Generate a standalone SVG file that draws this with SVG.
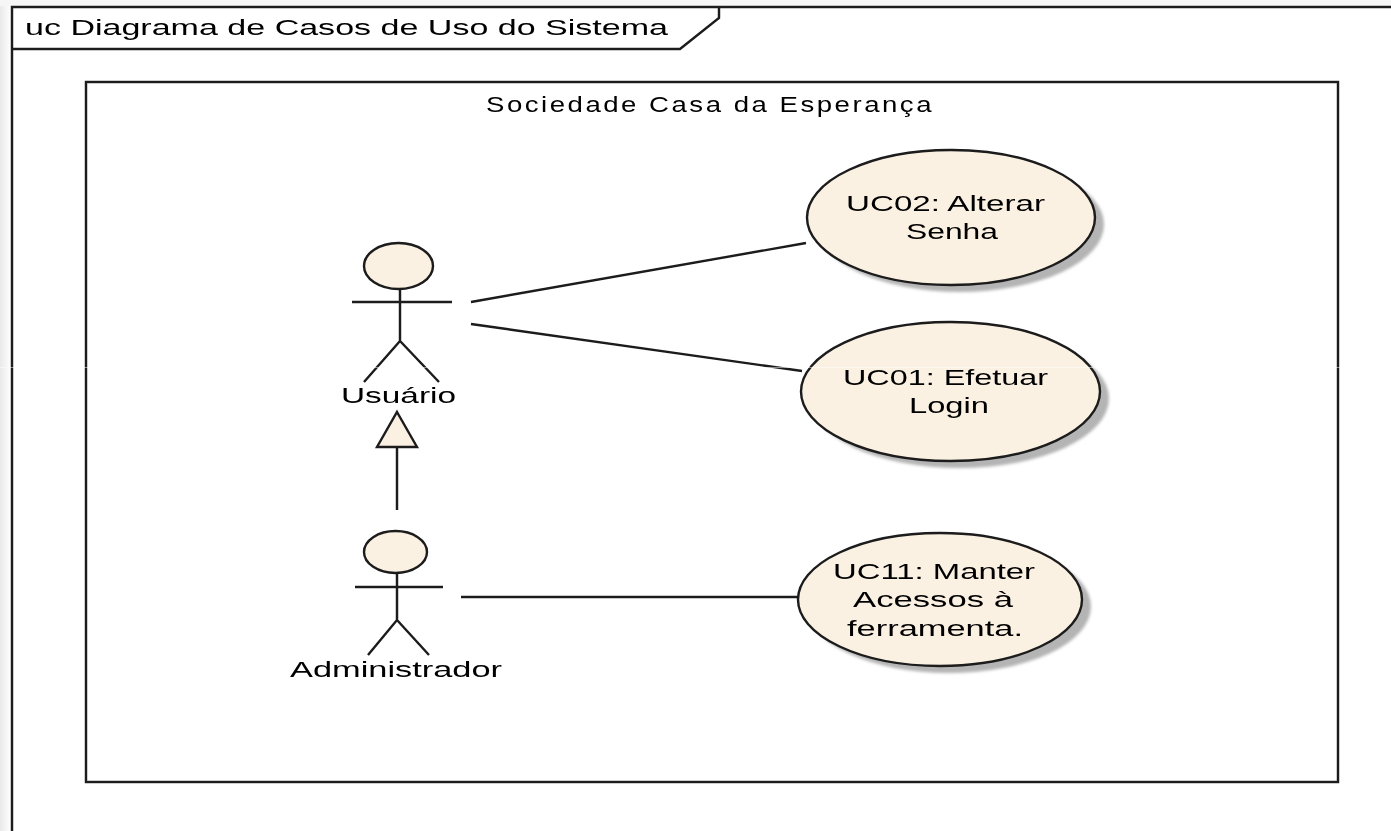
<svg xmlns="http://www.w3.org/2000/svg" width="1391" height="831" viewBox="0 0 1391 831">
<style>
.l{fill:none;stroke:#1a1a1a;stroke-width:2.400}
.f{fill:#fbf1e3;stroke:#1a1a1a;stroke-width:2.400}
.s{fill:#b4b4b4;filter:url(#b)}
text{font-family:"Liberation Sans",Arial,sans-serif;font-size:22px;fill:#000}
</style>
<defs>
<linearGradient id="g" x1="0" x2="1" y1="0" y2="0"><stop offset="0" stop-color="#e9e9e9"/><stop offset="1" stop-color="#ffffff"/></linearGradient>
<filter id="b" x="-5%" y="-5%" width="110%" height="110%"><feGaussianBlur stdDeviation="1.500"/></filter>
<filter id="soft" x="0" y="0" width="1391" height="831" filterUnits="userSpaceOnUse"><feGaussianBlur stdDeviation="0.450"/></filter>
</defs>
<rect width="1391" height="831" fill="#fff"/>
<rect width="11" height="831" fill="url(#g)"/>
<rect width="1391" height="6" fill="#f6f6f6"/>
<g filter="url(#soft)">
<g id="frame">
<path class="l" d="M1391 7H12V831"/>
<path class="l" d="M12 49H680L719 18V7"/>
<text x="25" y="35" textLength="643" lengthAdjust="spacingAndGlyphs">uc Diagrama de Casos de Uso do Sistema</text>
</g>
<g id="boundary">
<rect class="l" x="86" y="82" width="1252" height="700"/>
<text x="486" y="112" textLength="448" lengthAdjust="spacingAndGlyphs" letter-spacing="2">Sociedade Casa da Esperança</text>
</g>
<g id="connectors">
<path class="l" d="M471 302L806 243"/>
<path class="l" d="M471 324L802 371"/>
<path class="l" d="M461 597H798"/>
<path class="l" d="M397 510V447"/>
<path class="f" d="M397 412L417 447H377Z"/>
</g>
<g id="actor-usuario">
<ellipse class="f" cx="398.500" cy="266" rx="34.500" ry="23"/>
<path class="l" d="M352 302H452M400 289V341M364 382L400 341L439 382"/>
<text x="341" y="403" textLength="115" lengthAdjust="spacingAndGlyphs">Usuário</text>
</g>
<g id="actor-administrador">
<ellipse class="f" cx="395.500" cy="552" rx="31.500" ry="21"/>
<path class="l" d="M355 587H443M397 573V620M368 655L397 620L429 655"/>
<text x="290" y="677" textLength="212" lengthAdjust="spacingAndGlyphs">Administrador</text>
</g>
<g id="uc02">
<ellipse class="s" cx="960" cy="224.500" rx="144" ry="67.500"/>
<ellipse class="f" cx="951" cy="217.500" rx="144" ry="67.500"/>
<text x="846" y="211" textLength="199" lengthAdjust="spacingAndGlyphs">UC02: Alterar</text>
<text x="906" y="239" textLength="92" lengthAdjust="spacingAndGlyphs">Senha</text>
</g>
<g id="uc01">
<ellipse class="s" cx="959.500" cy="398.500" rx="149.500" ry="69.500"/>
<ellipse class="f" cx="950.500" cy="391.500" rx="149.500" ry="69.500"/>
<text x="843" y="385" textLength="205" lengthAdjust="spacingAndGlyphs">UC01: Efetuar</text>
<text x="909" y="413" textLength="80" lengthAdjust="spacingAndGlyphs">Login</text>
</g>
<g id="uc11">
<ellipse class="s" cx="949" cy="606.500" rx="142" ry="66.500"/>
<ellipse class="f" cx="940" cy="599.500" rx="142" ry="66.500"/>
<text x="833" y="579" textLength="202" lengthAdjust="spacingAndGlyphs">UC11: Manter</text>
<text x="853" y="607" textLength="160" lengthAdjust="spacingAndGlyphs">Acessos à</text>
<text x="847" y="636" textLength="176" lengthAdjust="spacingAndGlyphs">ferramenta.</text>
</g>
</g>
<rect y="367" width="1391" height="0.700" fill="#fff" opacity="0.700"/>
</svg>
